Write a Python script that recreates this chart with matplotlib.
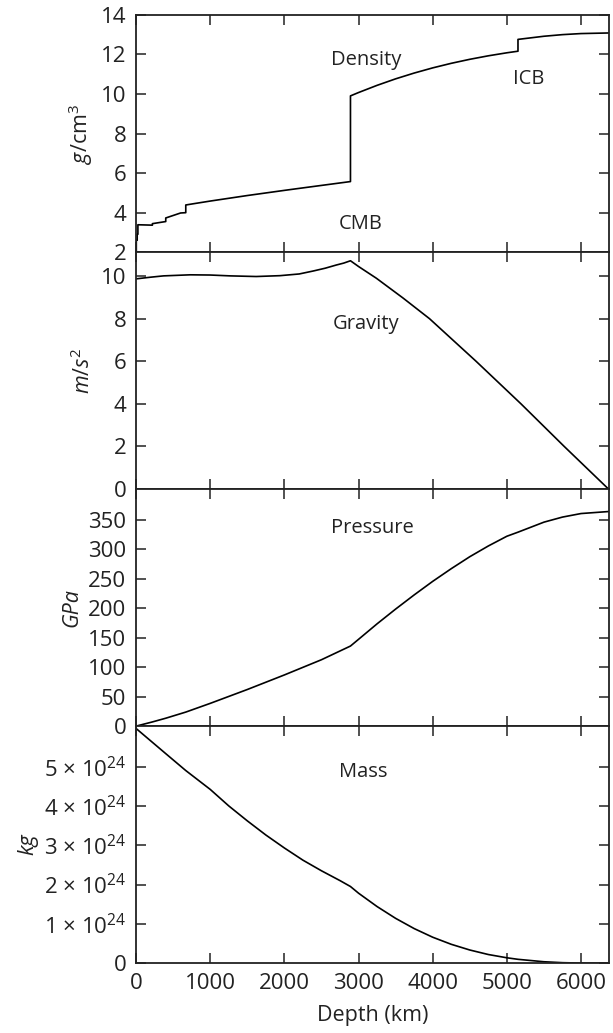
import matplotlib
matplotlib.use("Agg")
import matplotlib.pyplot as plt
from matplotlib.ticker import FixedLocator, FixedFormatter

plt.rcParams['font.family'] = ['Open Sans', 'DejaVu Sans']
plt.rcParams['mathtext.fontset'] = 'custom'
plt.rcParams['mathtext.rm'] = 'Open Sans'
plt.rcParams['mathtext.it'] = 'Open Sans:italic'
plt.rcParams['mathtext.bf'] = 'Open Sans:bold'

# --- density (g/cm3) ---
depth_rho = [0, 3, 3, 15, 15, 24.4, 24.4, 80, 220, 220, 400, 400, 600, 670, 670,
             771, 1000, 1500, 2000, 2200, 2500, 2741, 2891, 2891, 3000, 3250,
             3500, 3750, 4000, 4250, 4500, 4750, 5000, 5150, 5150, 5500, 5750,
             6000, 6371]
rho = [1.02, 1.02, 2.6, 2.6, 2.9, 2.9, 3.38, 3.375, 3.36, 3.436, 3.543, 3.724,
       3.976, 3.992, 4.381, 4.443, 4.580, 4.860, 5.121, 5.222, 5.372, 5.492,
       5.567, 9.904, 10.074, 10.438, 10.767, 11.060, 11.322, 11.553, 11.756,
       11.933, 12.086, 12.166, 12.764, 12.923, 13.005, 13.059, 13.089]

# --- gravity (m/s2) ---
depth_g = [0, 200, 370, 730, 1000, 1270, 1620, 1940, 2200, 2390, 2550, 2700,
           2800, 2891, 3000, 3240, 3600, 3957, 4585, 5191, 5774, 6371]
grav = [9.87, 9.95, 10.01, 10.06, 10.05, 10.01, 9.98, 10.02, 10.10, 10.24,
        10.37, 10.52, 10.61, 10.72, 10.45, 9.90, 8.97, 8.0, 6.0, 4.0, 2.0, 0.0]

# --- pressure (GPa) ---
depth_p = [0, 220, 400, 670, 1000, 1500, 2000, 2500, 2891, 3000, 3250, 3500,
           3750, 4000, 4250, 4500, 4750, 5000, 5150, 5500, 5750, 6000, 6371]
pres = [0, 7.1, 13.4, 23.8, 38.6, 62.1, 86.8, 112.6, 135.8, 147.2, 173.5,
        198.5, 222.5, 245.5, 267.0, 287.3, 305.5, 322.0, 328.9, 345.9, 354.5,
        360.5, 363.9]

# --- enclosed mass (1e24 kg) ---
depth_m = [0, 100, 200, 400, 670, 1000, 1250, 1500, 1750, 2000, 2250, 2500,
           2750, 2891, 3000, 3250, 3500, 3750, 4000, 4250, 4500, 4750, 5000,
           5150, 5500, 5750, 6000, 6371]
mass = [5.97, 5.81, 5.65, 5.33, 4.90, 4.42, 4.00, 3.62, 3.26, 2.93, 2.62, 2.35,
        2.10, 1.95, 1.78, 1.44, 1.14, 0.88, 0.66, 0.48, 0.335, 0.22, 0.137,
        0.098, 0.036, 0.0126, 0.0023, 0.0]

x_ticks = [0, 1000, 2000, 3000, 4000, 5000, 6000]
mass_ticks = [0, 1, 2, 3, 4, 5]
mass_labels = ['0'] + ['%d × 10$^{24}$' % k for k in mass_ticks[1:]]

ink = '#222222'
fig, axes = plt.subplots(4, 1, sharex=True, figsize=(6.13, 10.33), dpi=100)
fig.subplots_adjust(left=0.222, right=0.9927, top=0.9855, bottom=0.0676, hspace=0)

ax1, ax2, ax3, ax4 = axes
ax1.plot(depth_rho, rho, color='black', lw=1.2)
ax1.set_ylim(2, 14)
ax1.set_yticks([2, 4, 6, 8, 10, 12, 14])
ax1.set_ylabel(r'$g$/cm$^3$', color=ink)
ax1.text(3104, 11.71, 'Density', ha='center', va='center', fontsize=14.5, color=ink)
ax1.text(5290, 10.78, 'ICB', ha='center', va='center', fontsize=14.5, color=ink)
ax1.text(3030, 3.43, 'CMB', ha='center', va='center', fontsize=14.5, color=ink)

ax2.plot(depth_g, grav, color='black', lw=1.2)
ax2.set_ylim(0, 11.13)
ax2.set_yticks([0, 2, 4, 6, 8, 10])
ax2.set_ylabel(r'$m/s^2$', color=ink)
ax2.text(3098, 7.74, 'Gravity', ha='center', va='center', fontsize=14.5, color=ink)

ax3.plot(depth_p, pres, color='black', lw=1.2)
ax3.set_ylim(0, 402)
ax3.set_yticks([0, 50, 100, 150, 200, 250, 300, 350])
ax3.set_ylabel('GPa', style='italic', color=ink)
ax3.text(3187, 335.7, 'Pressure', ha='center', va='center', fontsize=14.5, color=ink)

ax4.plot(depth_m, mass, color='black', lw=1.2)
ax4.set_ylim(0, 6.03)
ax4.yaxis.set_major_locator(FixedLocator(mass_ticks))
ax4.yaxis.set_major_formatter(FixedFormatter(mass_labels))
ax4.set_ylabel('kg', style='italic', color=ink)
ax4.text(3062, 4.87, 'Mass', ha='center', va='center', fontsize=14.5, color=ink)
ax4.set_xlabel('Depth (km)', color=ink, labelpad=8)

ax4.set_xlim(0, 6371)
ax4.set_xticks(x_ticks)

for ax in axes:
    ax.tick_params(direction='in', top=True, right=True, length=7, width=1.1,
                   labelsize=16, colors=ink)
    ax.tick_params(axis='y', pad=7)
    ax.tick_params(axis='x', pad=7)
    ax.yaxis.label.set_size(15.5)
    ax.xaxis.label.set_size(15.5)
    for s in ax.spines.values():
        s.set_linewidth(1.3)
        s.set_color(ink)

fig.savefig('out.png', dpi=100)
